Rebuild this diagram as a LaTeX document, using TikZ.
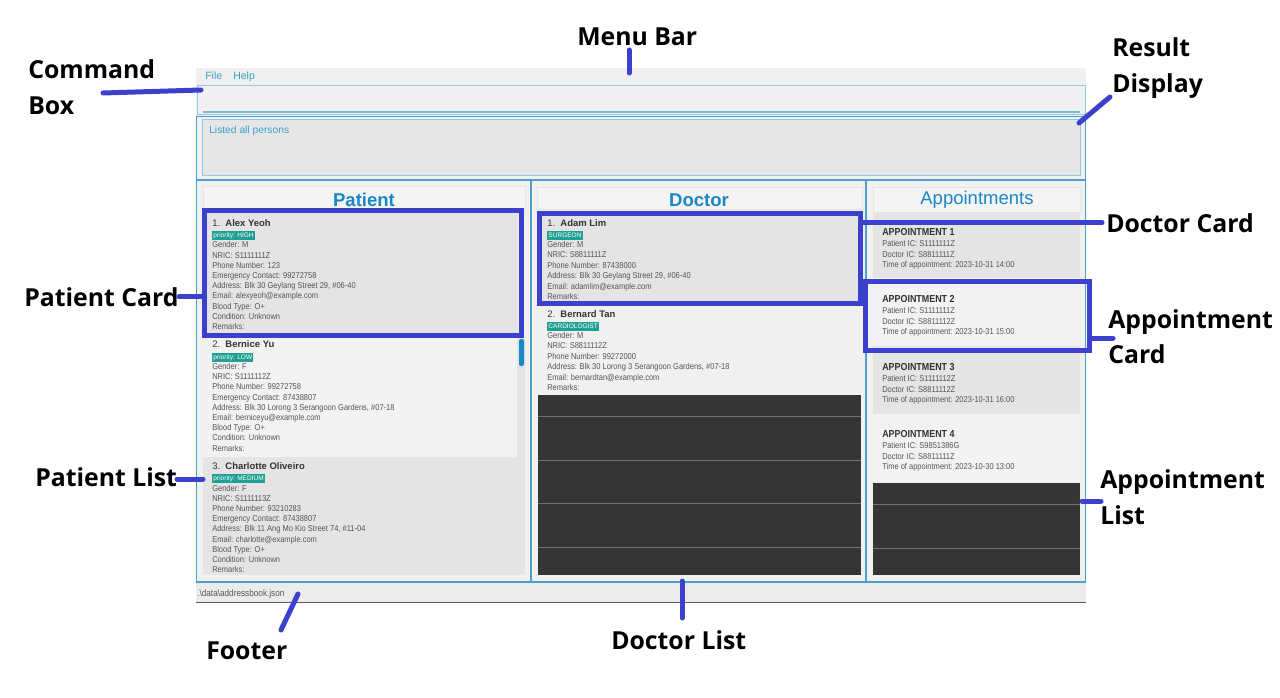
\documentclass[tikz,border=0pt]{standalone}
\usepackage{fontspec}
\setmainfont{Liberation Sans}
\newfontfamily\labelfont{Open Sans}
\newfontfamily\narrowfont{Liberation Sans}[FakeStretch=0.88]
\definecolor{menubg}{RGB}{240,240,240}
\definecolor{panelbg}{RGB}{240,240,240}
\definecolor{colbg}{RGB}{240,240,240}
\definecolor{hdrbg}{RGB}{244,244,244}
\definecolor{hdrline}{RGB}{228,228,228}
\definecolor{cardgray}{RGB}{228,228,228}
\definecolor{cardlight}{RGB}{242,242,242}
\definecolor{resbg}{RGB}{230,230,230}
\definecolor{uiborder}{RGB}{75,160,205}
\definecolor{lightborder}{RGB}{150,200,225}
\definecolor{cmdline}{RGB}{120,185,205}
\definecolor{uitext}{RGB}{58,160,200}
\definecolor{headblue}{RGB}{25,135,200}
\definecolor{txtgray}{RGB}{85,85,85}
\definecolor{namegray}{RGB}{50,50,50}
\definecolor{tagteal}{RGB}{32,160,148}
\definecolor{darkfill}{RGB}{53,53,53}
\definecolor{darkline}{RGB}{115,115,115}
\definecolor{footbg}{RGB}{235,235,235}
\definecolor{footline}{RGB}{90,90,90}
\definecolor{hlblue}{RGB}{60,65,205}
\tikzset{
  detail/.style={anchor=mid west, inner sep=0pt, font=\narrowfont\fontsize{6.4}{7}\selectfont, text=txtgray},
  pname/.style={anchor=mid west, inner sep=0pt, font=\fontsize{7.1}{8}\selectfont, text=namegray},
  apptitle/.style={anchor=mid west, inner sep=0pt, font=\narrowfont\fontsize{7.6}{8}\selectfont\bfseries, text=namegray},
  tagbox/.style={anchor=mid west, fill=tagteal, text=white, inner xsep=0.9pt, inner ysep=1pt,
    font=\fontsize{4.9}{5}\selectfont, text height=3.8pt, text depth=1pt},
  heading/.style={inner sep=0pt, font=\fontsize{13.9}{14}\selectfont\bfseries, text=headblue},
  uilabel/.style={anchor=mid west, inner sep=0pt, text=uitext},
  annot/.style={anchor=base west, inner sep=0pt, font=\labelfont\fontsize{18.6}{20}\selectfont\bfseries, text=black},
  pointer/.style={draw=hlblue, line width=3.75pt, line cap=round},
  hl/.style={draw=hlblue, line width=3.75pt},
  colframe/.style={draw=uiborder, line width=1.1pt},
  hdr/.style={fill=hdrbg, draw=hdrline, line width=0.5pt},
  darkrule/.style={draw=darkline, line width=0.75pt}
}
\begin{document}
\begin{tikzpicture}[x=0.75pt,y=-0.75pt]
\path[use as bounding box, fill=white] (0,0) rectangle (1280,698);

% ---------- window chrome ----------
\fill[menubg] (196,68) rectangle (1086,86);
\node[uilabel, font=\fontsize{7.9}{8}\selectfont] (mfile) at (205,76) {File};
\node[uilabel, font=\fontsize{7.9}{8}\selectfont] (mhelp) at (233,76) {Help};

\fill[panelbg] (196,86) rectangle (1086,180);
\draw[lightborder, line width=0.75pt] (197,86) rectangle (1085,115);
\draw[cmdline, line width=1.3pt] (203,112) -- (1080,112);
\draw[uiborder, line width=1.3pt] (196,116.5) -- (1086,116.5);
\draw[uiborder, line width=0.75pt] (196.5,116.5) -- (196.5,180) (1085.5,116.5) -- (1085.5,180);
\draw[lightborder, fill=resbg, line width=0.75pt] (202,120) rectangle (1080,176);
\node[uilabel, font=\fontsize{7.7}{8}\selectfont] (restext) at (209,130) {Listed all persons};

% ---------- columns ----------
\fill[colbg] (196,180) rectangle (1086,582);

% Patient column
\draw[hdr] (203,186) rectangle (525,211);
\node[heading] (phead) at (364,200) {Patient};
\fill[cardgray] (207,213) rectangle (518,333);
\fill[cardlight] (207,338) rectangle (517,457);
\fill[cardgray] (203,457) rectangle (525,575);
\fill[hdrline] (517,338) rectangle (525,457);
\fill[headblue, rounded corners=1.5pt] (519,339) rectangle (524,366);

\node[pname] (p1name) at (212,223) {1.\ \ \textbf{Alex Yeoh}};
\node[tagbox] (p1tag) at (212,234) {priority: HIGH};
\foreach \t [count=\i from 0] in {{Gender: M},{NRIC: S1111111Z},{Phone Number: 123},{Emergency Contact: 99272758},{Address: Blk 30 Geylang Street 29, \#06-40},{Email: alexyeoh@example.com},{Blood Type: O+},{Condition: Unknown},{Remarks:}}
  \node[detail] (p1l\i) at (212,{244.3+\i*10.2}) {\t};

\node[pname] (p2name) at (212,344) {2.\ \ \textbf{Bernice Yu}};
\node[tagbox] (p2tag) at (212,355.5) {priority: LOW};
\foreach \t [count=\i from 0] in {{Gender: F},{NRIC: S1111112Z},{Phone Number: 99272758},{Emergency Contact: 87438807},{Address: Blk 30 Lorong 3 Serangoon Gardens, \#07-18},{Email: berniceyu@example.com},{Blood Type: O+},{Condition: Unknown},{Remarks:}}
  \node[detail] (p2l\i) at (212,{366+\i*10.2}) {\t};

\node[pname] (p3name) at (212,466) {3.\ \ \textbf{Charlotte Oliveiro}};
\node[tagbox] (p3tag) at (212,477) {priority: MEDIUM};
\foreach \t [count=\i from 0] in {{Gender: F},{NRIC: S1111113Z},{Phone Number: 93210283},{Emergency Contact: 87438807},{Address: Blk 11 Ang Mo Kio Street 74, \#11-04},{Email: charlotte@example.com},{Blood Type: O+},{Condition: Unknown},{Remarks:}}
  \node[detail] (p3l\i) at (212,{487.5+\i*10.2}) {\t};

% Doctor column
\draw[hdr] (537,187) rectangle (862,209);
\node[heading] (dhead) at (699,200) {Doctor};
\fill[cardgray] (542,216) rectangle (858,303);
\node[pname] (d1name) at (547,223) {1.\ \ \textbf{Adam Lim}};
\node[tagbox] (d1tag) at (547,234) {SURGEON};
\foreach \t [count=\i from 0] in {{Gender: M},{NRIC: S8811111Z},{Phone Number: 87438000},{Address: Blk 30 Geylang Street 29, \#06-40},{Email: adamlim@example.com},{Remarks:}}
  \node[detail] (d1l\i) at (547,{244+\i*10.4}) {\t};

\node[pname] (d2name) at (547,314) {2.\ \ \textbf{Bernard Tan}};
\node[tagbox] (d2tag) at (547,325) {CARDIOLOGIST};
\foreach \t [count=\i from 0] in {{Gender: M},{NRIC: S8811112Z},{Phone Number: 99272000},{Address: Blk 30 Lorong 3 Serangoon Gardens, \#07-18},{Email: bernardtan@example.com},{Remarks:}}
  \node[detail] (d2l\i) at (547,{335+\i*10.4}) {\t};

\fill[darkfill] (538,395) rectangle (861,575);
\foreach \yy in {416,460,503,547}
  \draw[darkrule] (538,\yy) -- (861,\yy);

% Appointments column
\draw[hdr] (873,187) rectangle (1080,212);
\node[heading, font=\fontsize{13.9}{14}\selectfont] (ahead) at (977,200) {Appointments};
\fill[cardgray] (873,213) rectangle (1080,278);
\fill[cardlight] (873,278) rectangle (1080,346);
\fill[cardgray] (873,346) rectangle (1080,414);
\fill[cardlight] (873,414) rectangle (1080,482);

\node[apptitle] (a1t) at (882,232) {APPOINTMENT 1};
\foreach \t [count=\i from 0] in {{Patient IC: S1111111Z},{Doctor IC: S8811111Z},{Time of appointment: 2023-10-31 14:00}}
  \node[detail] (a1l\i) at (882,{243+\i*10.5}) {\t};
\node[apptitle] (a2t) at (882,299) {APPOINTMENT 2};
\foreach \t [count=\i from 0] in {{Patient IC: S1111111Z},{Doctor IC: S8811112Z},{Time of appointment: 2023-10-31 15:00}}
  \node[detail] (a2l\i) at (882,{310+\i*10.5}) {\t};
\node[apptitle] (a3t) at (882,367) {APPOINTMENT 3};
\foreach \t [count=\i from 0] in {{Patient IC: S1111112Z},{Doctor IC: S8811112Z},{Time of appointment: 2023-10-31 16:00}}
  \node[detail] (a3l\i) at (882,{378+\i*10.5}) {\t};
\node[apptitle] (a4t) at (882,434) {APPOINTMENT 4};
\foreach \t [count=\i from 0] in {{Patient IC: S9851386G},{Doctor IC: S8811111Z},{Time of appointment: 2023-10-30 13:00}}
  \node[detail] (a4l\i) at (882,{445+\i*10.5}) {\t};

\fill[darkfill] (873,483) rectangle (1080,575);
\foreach \yy in {504,548}
  \draw[darkrule] (873,\yy) -- (1080,\yy);

% column frames
\draw[uiborder, line width=1.3pt] (196,180) -- (1086,180);
\draw[colframe] (196.5,180) rectangle (531,582);
\draw[colframe] (531,180) rectangle (866,582);
\draw[colframe] (866,180) rectangle (1085.5,582);

% footer
\fill[footbg] (196,582.5) rectangle (1086,602);
\draw[footline, line width=0.75pt] (196,602) -- (1086,602);
\node[anchor=mid west, inner sep=0pt, font=\narrowfont\fontsize{7}{7}\selectfont, text=txtgray] (foottext) at (197,593) {.\textbackslash data\textbackslash addressbook.json};

% ---------- highlight frames ----------
\draw[hl] (204.5,210.5) rectangle (521.5,335.5);
\draw[hl] (539.5,213.5) rectangle (860.5,303.5);
\draw[hl] (865.5,281.5) rectangle (1089.5,350.5);

% ---------- annotation labels ----------
\node[annot] (lmenu) at (577,46) {Menu Bar};
\node[annot] (lcmd1) at (28,79) {Command};
\node[annot] (lcmd2) at (28,115) {Box};
\node[annot] (lres1) at (1112,57) {Result};
\node[annot] (lres2) at (1112,93) {Display};
\node[annot] (ldoccard) at (1106,233) {Doctor Card};
\node[annot] (lapc1) at (1108,329) {Appointment};
\node[annot] (lapc2) at (1108,363) {Card};
\node[annot] (lpatcard) at (24,306) {Patient Card};
\node[annot] (lpatlist) at (35,486) {Patient List};
\node[annot] (lapl1) at (1100,488) {Appointment};
\node[annot] (lapl2) at (1100,524) {List};
\node[annot] (lfoot) at (206,659) {Footer};
\node[annot] (ldoclist) at (611,649) {Doctor List};

% ---------- pointers ----------
\coordinate (cmenuA) at (629,50);   \coordinate (cmenuB) at (629,73);
\coordinate (ccmdA) at (103,93);    \coordinate (ccmdB) at (201,90);
\coordinate (cresA) at (1110,97);   \coordinate (cresB) at (1079,123);
\coordinate (cdcA) at (861,222.5);  \coordinate (cdcB) at (1102,222.5);
\coordinate (cacA) at (1090,338);   \coordinate (cacB) at (1113,338);
\coordinate (cpcA) at (179,297);    \coordinate (cpcB) at (203,297);
\coordinate (cplA) at (177,479);    \coordinate (cplB) at (203,479);
\coordinate (cftA) at (298,594);    \coordinate (cftB) at (281,630);
\coordinate (cdlA) at (682,581);    \coordinate (cdlB) at (682,618);
\coordinate (calA) at (1082,501);   \coordinate (calB) at (1101,501);
\draw[pointer] (cmenuA) -- (cmenuB);
\draw[pointer] (ccmdA) -- (ccmdB);
\draw[pointer] (cresA) -- (cresB);
\draw[pointer] (cdcA) -- (cdcB);
\draw[pointer] (cacA) -- (cacB);
\draw[pointer] (cpcA) -- (cpcB);
\draw[pointer] (cplA) -- (cplB);
\draw[pointer] (cftA) -- (cftB);
\draw[pointer] (cdlA) -- (cdlB);
\draw[pointer] (calA) -- (calB);
\end{tikzpicture}
\end{document}
